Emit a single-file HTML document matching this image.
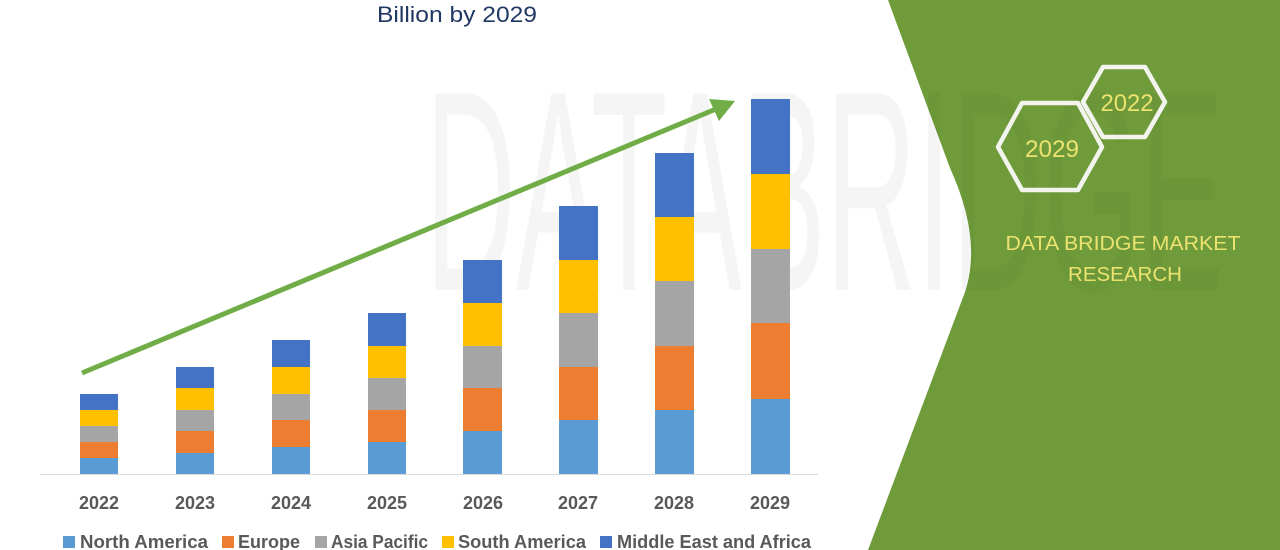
<!DOCTYPE html>
<html><head><meta charset="utf-8"><style>
html,body{margin:0;padding:0;background:#fff;}
svg{display:block;}
</style></head><body>
<svg width="1280" height="550" viewBox="0 0 1280 550" xmlns="http://www.w3.org/2000/svg">
<defs>
<clipPath id="gclip"><path d="M888,0 L950,168 Q985,245 962,300 L868,550 L1280,550 L1280,0 Z"/></clipPath>
</defs>
<rect width="1280" height="550" fill="#ffffff"/>
<!-- faint watermark on white -->
<text x="425" y="290" font-family="Liberation Sans, sans-serif" font-size="286" fill="#f5f5f5" transform="translate(425,0) scale(0.44,1) translate(-425,0)">DATABRIDGE</text>
<!-- green panel -->
<path d="M888,0 L950,168 Q985,245 962,300 L868,550 L1280,550 L1280,0 Z" fill="#6f9b3a"/>
<g clip-path="url(#gclip)">
<text x="425" y="290" font-family="Liberation Sans, sans-serif" font-size="286" fill="#000" fill-opacity="0.025" transform="translate(425,0) scale(0.44,1) translate(-425,0)">DATABRIDGE</text>
</g>
<!-- title -->
<text x="457" y="22" text-anchor="middle" font-family="Liberation Sans, sans-serif" font-size="22" fill="#203864" textLength="160" lengthAdjust="spacingAndGlyphs">Billion by 2029</text>
<!-- axis -->
<line x1="40" y1="474.5" x2="818" y2="474.5" stroke="#d9d9d9" stroke-width="1"/>
<!-- bars -->
<g>
<rect x="80" y="458" width="38" height="16" fill="#5b9bd5"/>
<rect x="80" y="442" width="38" height="16" fill="#ed7d31"/>
<rect x="80" y="426" width="38" height="16" fill="#a5a5a5"/>
<rect x="80" y="410" width="38" height="16" fill="#ffc000"/>
<rect x="80" y="394" width="38" height="16" fill="#4472c4"/>
<rect x="176" y="453" width="38" height="21" fill="#5b9bd5"/>
<rect x="176" y="431" width="38" height="22" fill="#ed7d31"/>
<rect x="176" y="410" width="38" height="21" fill="#a5a5a5"/>
<rect x="176" y="388" width="38" height="22" fill="#ffc000"/>
<rect x="176" y="367" width="38" height="21" fill="#4472c4"/>
<rect x="272" y="447" width="38" height="27" fill="#5b9bd5"/>
<rect x="272" y="420" width="38" height="27" fill="#ed7d31"/>
<rect x="272" y="394" width="38" height="26" fill="#a5a5a5"/>
<rect x="272" y="367" width="38" height="27" fill="#ffc000"/>
<rect x="272" y="340" width="38" height="27" fill="#4472c4"/>
<rect x="368" y="442" width="38" height="32" fill="#5b9bd5"/>
<rect x="368" y="410" width="38" height="32" fill="#ed7d31"/>
<rect x="368" y="378" width="38" height="32" fill="#a5a5a5"/>
<rect x="368" y="346" width="38" height="32" fill="#ffc000"/>
<rect x="368" y="313" width="38" height="33" fill="#4472c4"/>
<rect x="463" y="431" width="39" height="43" fill="#5b9bd5"/>
<rect x="463" y="388" width="39" height="43" fill="#ed7d31"/>
<rect x="463" y="346" width="39" height="42" fill="#a5a5a5"/>
<rect x="463" y="303" width="39" height="43" fill="#ffc000"/>
<rect x="463" y="260" width="39" height="43" fill="#4472c4"/>
<rect x="559" y="420" width="39" height="54" fill="#5b9bd5"/>
<rect x="559" y="367" width="39" height="53" fill="#ed7d31"/>
<rect x="559" y="313" width="39" height="54" fill="#a5a5a5"/>
<rect x="559" y="260" width="39" height="53" fill="#ffc000"/>
<rect x="559" y="206" width="39" height="54" fill="#4472c4"/>
<rect x="655" y="410" width="39" height="64" fill="#5b9bd5"/>
<rect x="655" y="346" width="39" height="64" fill="#ed7d31"/>
<rect x="655" y="281" width="39" height="65" fill="#a5a5a5"/>
<rect x="655" y="217" width="39" height="64" fill="#ffc000"/>
<rect x="655" y="153" width="39" height="64" fill="#4472c4"/>
<rect x="751" y="399" width="39" height="75" fill="#5b9bd5"/>
<rect x="751" y="323" width="39" height="76" fill="#ed7d31"/>
<rect x="751" y="249" width="39" height="74" fill="#a5a5a5"/>
<rect x="751" y="174" width="39" height="75" fill="#ffc000"/>
<rect x="751" y="99" width="39" height="75" fill="#4472c4"/>
</g>
<!-- arrow -->
<line x1="82" y1="373" x2="716" y2="109" stroke="#70ad47" stroke-width="5"/>
<polygon points="735,101 709,99 719,121" fill="#70ad47"/>
<!-- year labels -->
<g font-family="Liberation Sans, sans-serif" font-weight="bold" font-size="18" fill="#595959" text-anchor="middle">
<text x="99" y="509">2022</text>
<text x="195" y="509">2023</text>
<text x="291" y="509">2024</text>
<text x="387" y="509">2025</text>
<text x="483" y="509">2026</text>
<text x="578" y="509">2027</text>
<text x="674" y="509">2028</text>
<text x="770" y="509">2029</text>
</g>
<!-- legend -->
<g font-family="Liberation Sans, sans-serif" font-weight="bold" font-size="18" fill="#595959">
<rect x="63" y="536" width="12" height="12" fill="#5b9bd5"/>
<text x="80" y="548" textLength="128" lengthAdjust="spacingAndGlyphs">North America</text>
<rect x="222" y="536" width="12" height="12" fill="#ed7d31"/>
<text x="238" y="548" textLength="62" lengthAdjust="spacingAndGlyphs">Europe</text>
<rect x="315" y="536" width="12" height="12" fill="#a5a5a5"/>
<text x="331" y="548" textLength="97" lengthAdjust="spacingAndGlyphs">Asia Pacific</text>
<rect x="442" y="536" width="12" height="12" fill="#ffc000"/>
<text x="458" y="548" textLength="128" lengthAdjust="spacingAndGlyphs">South America</text>
<rect x="600" y="536" width="12" height="12" fill="#4472c4"/>
<text x="617" y="548" textLength="194" lengthAdjust="spacingAndGlyphs">Middle East and Africa</text>
</g>
<!-- hexagons -->
<polygon points="998,147 1022,103 1078,103 1102,147 1078,190 1022,190" fill="none" stroke="#f4f4ee" stroke-width="4.5" stroke-linejoin="round"/>
<polygon points="1083,102 1103,67 1145,67 1165,102 1145,137 1103,137" fill="none" stroke="#f4f4ee" stroke-width="4.5" stroke-linejoin="round"/>
<g font-family="Liberation Sans, sans-serif" font-size="24" fill="#ebe270" text-anchor="middle">
<text x="1052" y="157" textLength="54" lengthAdjust="spacingAndGlyphs">2029</text>
<text x="1127" y="111" textLength="53" lengthAdjust="spacingAndGlyphs">2022</text>
</g>
<g font-family="Liberation Sans, sans-serif" font-size="20" fill="#ebe270" text-anchor="middle">
<text x="1123" y="250" textLength="235" lengthAdjust="spacingAndGlyphs">DATA BRIDGE MARKET</text>
<text x="1125" y="281" textLength="114" lengthAdjust="spacingAndGlyphs">RESEARCH</text>
</g>
</svg>
</body></html>
